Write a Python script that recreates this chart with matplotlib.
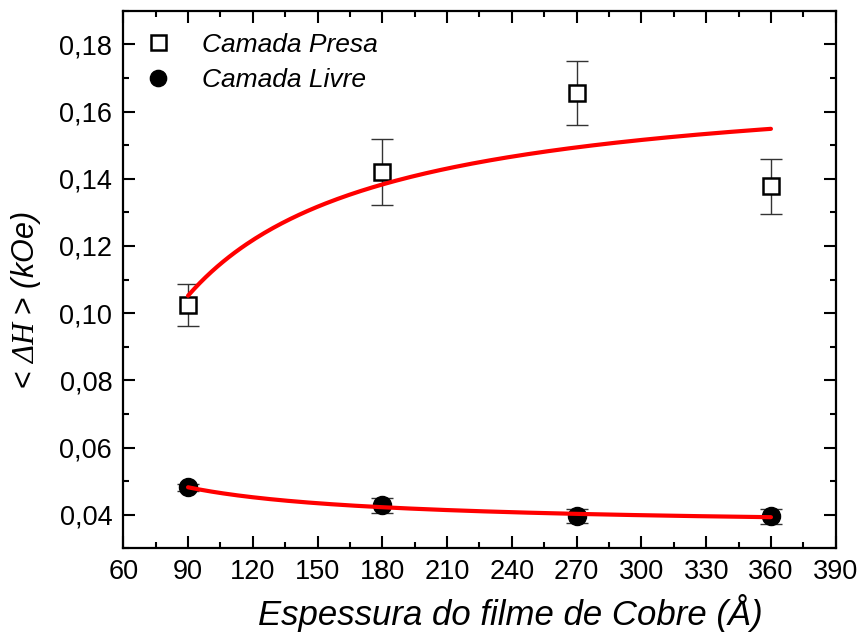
import numpy as np
import matplotlib
matplotlib.use("Agg")
import matplotlib.pyplot as plt

plt.rcParams['font.family'] = ['Liberation Sans', 'DejaVu Sans']
plt.rcParams['mathtext.fontset'] = 'custom'
plt.rcParams['mathtext.rm'] = 'Liberation Sans'
plt.rcParams['mathtext.it'] = 'Liberation Serif:italic'
plt.rcParams['mathtext.bf'] = 'Liberation Serif:italic'
plt.rcParams['mathtext.sf'] = 'Liberation Sans:italic'

# Copper spacer thickness (Angstrom)
espessura = [90, 180, 270, 360]

# Linewidth <dH> (kOe) and uncertainties
presa = [0.1024, 0.1420, 0.1656, 0.1377]
presa_err = [0.0062, 0.0097, 0.0095, 0.0081]
livre = [0.0482, 0.0428, 0.0396, 0.0395]
livre_err = [0.0010, 0.0022, 0.0022, 0.0022]

# Fitted model  y = a + b / t
fit_presa = (0.1714, -5.96)
fit_livre = (0.0363, 1.068)

fig = plt.figure(figsize=(8.62, 6.37), dpi=100)
ax = fig.add_axes([0.143, 0.1392, 0.8265, 0.844])

ax.errorbar(espessura, presa, yerr=presa_err, fmt='none', ecolor='#333333',
            elinewidth=1.0, capsize=8, capthick=1.0, zorder=2)
ax.errorbar(espessura, livre, yerr=livre_err, fmt='none', ecolor='#333333',
            elinewidth=1.0, capsize=8, capthick=1.0, zorder=2)
ax.plot(espessura, presa, 's', ms=12, mfc='white', mec='black', mew=1.8,
        linestyle='none', zorder=3, label='Camada Presa')
ax.plot(espessura, livre, 'o', ms=13, mfc='black', mec='black',
        linestyle='none', zorder=3, label='Camada Livre')

t = np.linspace(espessura[0], espessura[-1], 200)
ax.plot(t, fit_presa[0] + fit_presa[1] / t, color='#ff0000', lw=3, zorder=4,
        solid_capstyle='round')
ax.plot(t, fit_livre[0] + fit_livre[1] / t, color='#ff0000', lw=3, zorder=4,
        solid_capstyle='round')

ax.set_xlim(60, 390)
ax.set_ylim(0.03, 0.19)
ax.set_xticks(np.arange(60, 391, 30))
ax.set_xticks(np.arange(75, 391, 30), minor=True)
ax.set_yticks(np.arange(0.04, 0.181, 0.02))
ax.set_yticks(np.arange(0.03, 0.191, 0.02), minor=True)
ax.set_yticklabels([f"{v:.2f}".replace('.', ',') for v in np.arange(0.04, 0.181, 0.02)])

ax.tick_params(which='both', direction='in', top=True, right=True, width=1.5,
               labelsize=19.5, pad=8)
ax.tick_params(which='major', length=8.5)
ax.tick_params(which='minor', length=4.5)
for s in ax.spines.values():
    s.set_linewidth(1.6)

ax.set_xlabel('Espessura do filme de Cobre (Å)', fontsize=25, style='italic')
ax.xaxis.set_label_coords(0.544, -0.085)
ax.set_ylabel(r'< $\mathbf{ΔH}$ > $\mathsf{(kOe)}$', fontsize=22)
ax.yaxis.set_label_coords(-0.113, 0.462)

leg = ax.legend(loc='upper left', frameon=False, prop={'style': 'italic', 'size': 19},
                handlelength=1.0, handletextpad=1.17, borderaxespad=0.43,
                borderpad=0.4, labelspacing=0.45, markerscale=0.9)

fig.savefig('out.png', dpi=100)
